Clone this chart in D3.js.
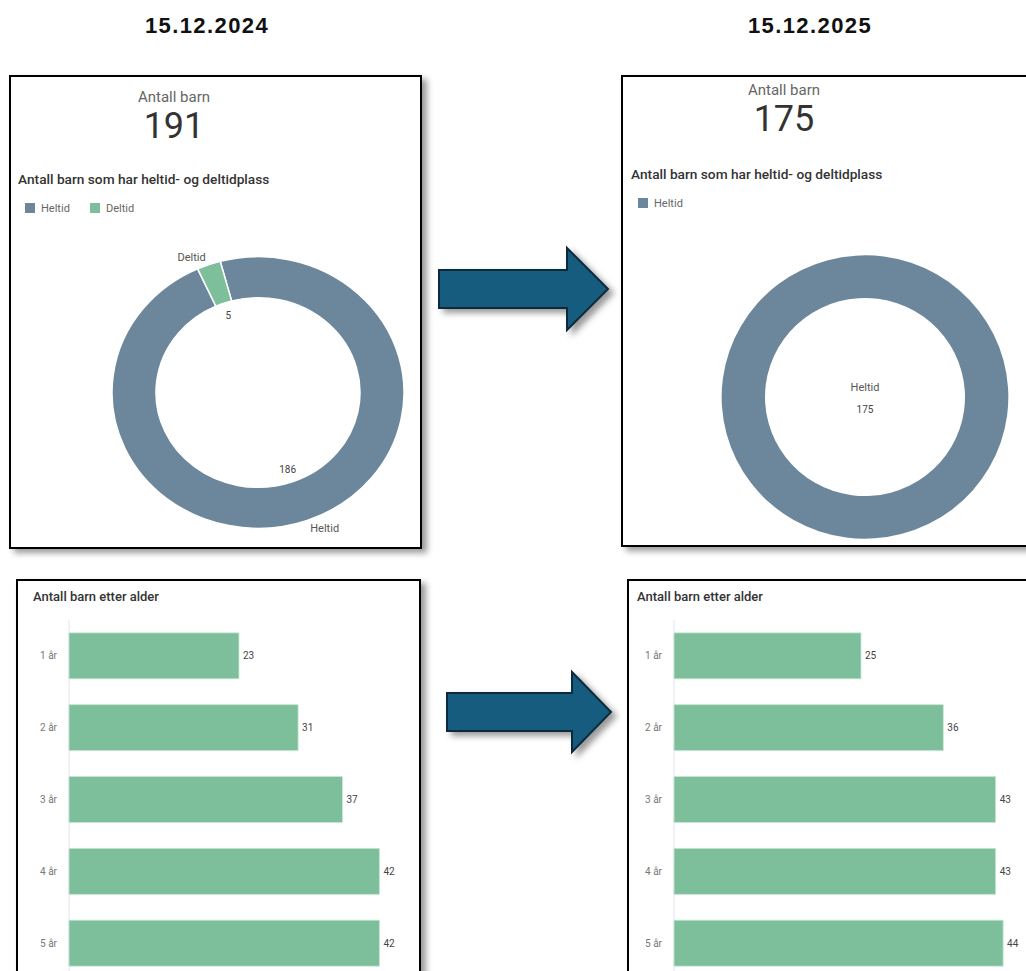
<!DOCTYPE html>
<meta charset="utf-8">
<style>
  body { margin: 0; background: #fff; }
  text { font-family: Roboto, "Noto Sans", sans-serif; }
</style>
<svg width="1026" height="971"></svg>
<script src="https://d3js.org/d3.v7.min.js"></script>
<script>

var dates = ["15.12.2024", "15.12.2025"];
var totals = [191, 175];
var placeTypes = ["Heltid", "Deltid"];
var places2024 = [186, 5];
var places2025 = [175];
var ages = ["1 år", "2 år", "3 år", "4 år", "5 år"];
var ages2024 = [23, 31, 37, 42, 42];
var ages2025 = [25, 36, 43, 43, 44];

var svg = d3.select("svg");
var color = d3.scaleOrdinal().domain(placeTypes).range(["#6c879b", "#7dbe9b"]);

var defs = svg.append("defs");
defs.append("filter").attr("id", "shadow").attr("x", "-10%").attr("y", "-10%").attr("width", "130%").attr("height", "130%")
  .append("feDropShadow").attr("dx", 5).attr("dy", 4).attr("stdDeviation", 3)
  .attr("flood-color", "#000").attr("flood-opacity", 0.4);

// date headings
svg.selectAll(".date").data(dates).enter().append("text")
    .attr("x", function(d, i) { return i ? 810 : 207; })
    .attr("y", 33)
    .attr("text-anchor", "middle")
    .style("font-family", "'Liberation Sans', Arial, sans-serif")
    .style("font-weight", "bold")
    .style("font-size", "22px")
    .style("letter-spacing", "1.4px")
    .attr("fill", "#111")
    .text(function(d) { return d; });

// panels
var panels = [
  {x: 10, y: 76, w: 411, h: 472},
  {x: 622, y: 76, w: 420, h: 470},
  {x: 17, y: 580, w: 403, h: 420},
  {x: 628, y: 580, w: 420, h: 420}
];
svg.selectAll(".panel").data(panels).enter().append("rect")
    .attr("x", function(d) { return d.x; })
    .attr("y", function(d) { return d.y; })
    .attr("width", function(d) { return d.w; })
    .attr("height", function(d) { return d.h; })
    .attr("fill", "#fff")
    .attr("stroke", "#000")
    .attr("stroke-width", 2)
    .attr("filter", "url(#shadow)");

// arrows
function arrow(x0, yTop, yBot, xHead, hTop, hBot, tip) {
  var ym = (hTop + hBot) / 2;
  return "M" + x0 + "," + yTop + "H" + xHead + "V" + hTop + "L" + tip + "," + ym +
         "L" + xHead + "," + hBot + "V" + yBot + "H" + x0 + "Z";
}
[[439, 270, 308, 567, 248, 330, 608], [447, 693, 731, 572, 672, 752, 611]].forEach(function(a) {
  svg.append("path")
      .attr("d", arrow.apply(null, a))
      .attr("fill", "#165c7e")
      .attr("stroke", "#0c2a3c")
      .attr("stroke-width", 2)
      .attr("stroke-linejoin", "miter")
      .attr("filter", "url(#shadow)");
});

// KPI + donut panel
function donutPanel(opt) {
  var g = svg.append("g");
  g.append("text").attr("x", opt.kx).attr("y", opt.ky)
      .attr("text-anchor", "middle").attr("fill", "#666").style("font-size", "15px")
      .text("Antall barn");
  g.append("text").attr("x", opt.kx).attr("y", opt.ky + 36)
      .attr("text-anchor", "middle").attr("fill", "#333").style("font-size", "36px")
      .text(opt.total);
  g.append("text").attr("x", opt.tx).attr("y", opt.ty)
      .attr("fill", "#333").style("font-size", "13.7px").style("font-weight", "500")
      .text("Antall barn som har heltid- og deltidplass");

  var legend = g.selectAll(".lg").data(opt.types).enter().append("g")
      .attr("transform", function(d, i) { return "translate(" + (opt.tx + 7 + i * 65) + "," + (opt.ty + 19) + ")"; });
  legend.append("rect").attr("width", 10).attr("height", 10).attr("fill", function(d) { return color(d); });
  legend.append("text").attr("x", 16).attr("y", 9).attr("fill", "#666").style("font-size", "11px")
      .text(function(d) { return d; });

  var data = opt.types.map(function(t, i) { return {type: t, value: opt.values[i]}; });
  var start = -15 * Math.PI / 180;
  var pie = d3.pie().sort(null).value(function(d) { return d.value; })
      .startAngle(start).endAngle(start + 2 * Math.PI);
  var arcs = pie(data);
  var arc = d3.arc().innerRadius(opt.ri).outerRadius(opt.ro);

  var ring = g.append("g")
      .attr("transform", "translate(" + opt.cx + "," + opt.cy + ") scale(1," + opt.sy + ")");
  ring.selectAll("path").data(arcs).enter().append("path")
      .attr("d", arc)
      .attr("fill", function(d) { return color(d.data.type); })
      .attr("stroke", "#fff")
      .attr("stroke-width", arcs.length > 1 ? 1.5 : 0);

  if (arcs.length === 1) {
    g.append("text").attr("x", opt.cx).attr("y", opt.cy - 6)
        .attr("text-anchor", "middle").attr("fill", "#555").style("font-size", "11px")
        .text(arcs[0].data.type);
    g.append("text").attr("x", opt.cx).attr("y", opt.cy + 16)
        .attr("text-anchor", "middle").attr("fill", "#444").style("font-size", "10px")
        .text(arcs[0].data.value);
    return;
  }
  arcs.forEach(function(d) {
    var a = (d.startAngle + d.endAngle) / 2, s = Math.sin(a), c = Math.cos(a);
    g.append("text")
        .attr("x", opt.cx + 88 * s).attr("y", opt.cy - 88 * c * opt.sy)
        .attr("dy", "0.35em").attr("text-anchor", "middle")
        .attr("fill", "#444").style("font-size", "10px")
        .text(d.data.value);
    g.append("text")
        .attr("x", opt.cx + 155 * s).attr("y", opt.cy - 155 * c * opt.sy)
        .attr("dy", "0.35em").attr("text-anchor", s < 0 ? "end" : "start")
        .attr("fill", "#555").style("font-size", "11px")
        .text(d.data.type);
  });
}

donutPanel({kx: 174, ky: 102, total: totals[0], tx: 18, ty: 184,
  types: placeTypes, values: places2024, cx: 258, cy: 392.5, ro: 146, ri: 102, sy: 0.93});
donutPanel({kx: 784, ky: 95, total: totals[1], tx: 631, ty: 179,
  types: placeTypes.slice(0, 1), values: places2025, cx: 865, cy: 397, ro: 143, ri: 100, sy: 0.99});

// bar panels
function barPanel(opt) {
  var g = svg.append("g");
  g.append("text").attr("x", opt.tx).attr("y", 601)
      .attr("fill", "#333").style("font-size", "13px").style("font-weight", "500")
      .text("Antall barn etter alder");

  var y = d3.scaleBand().domain(ages).range([607, 992]).paddingInner(0.36).paddingOuter(0.36);
  var x = d3.scaleLinear().domain([0, 50]).range([opt.x0, opt.x0 + opt.w]);

  g.append("line").attr("x1", opt.x0).attr("x2", opt.x0).attr("y1", 620).attr("y2", 971)
      .attr("stroke", "#dfe4ef").attr("stroke-width", 1);

  g.selectAll(".bar").data(opt.values).enter().append("rect")
      .attr("x", x(0))
      .attr("y", function(d, i) { return y(ages[i]); })
      .attr("width", function(d) { return x(d) - x(0); })
      .attr("height", y.bandwidth())
      .attr("fill", "#7dbe9b")
      .attr("stroke", "#c9e6d6")
      .attr("stroke-width", 0.8);

  g.selectAll(".val").data(opt.values).enter().append("text")
      .attr("x", function(d) { return x(d) + 4; })
      .attr("y", function(d, i) { return y(ages[i]) + y.bandwidth() / 2; })
      .attr("dy", "0.35em").attr("fill", "#444").style("font-size", "10px")
      .text(function(d) { return d; });

  g.selectAll(".cat").data(ages).enter().append("text")
      .attr("x", opt.x0 - 12)
      .attr("y", function(d) { return y(d) + y.bandwidth() / 2; })
      .attr("dy", "0.35em").attr("text-anchor", "end").attr("fill", "#777").style("font-size", "10px")
      .text(function(d) { return d; });
}

barPanel({tx: 33, x0: 69, w: 369.5, values: ages2024});
barPanel({tx: 637, x0: 674, w: 374, values: ages2025});

</script>
